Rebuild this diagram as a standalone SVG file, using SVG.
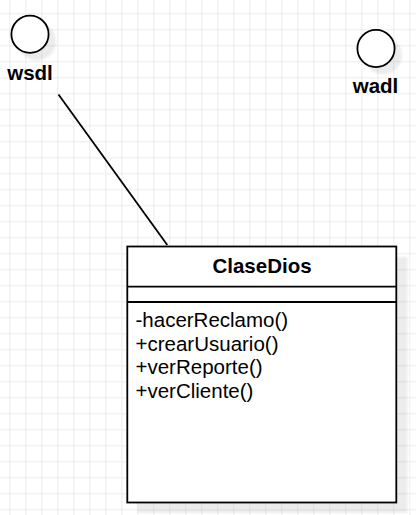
<svg xmlns="http://www.w3.org/2000/svg" width="416" height="515" viewBox="0 0 416 515">
<defs>
<pattern id="grid" x="9.3" y="13.3" width="16" height="16" patternUnits="userSpaceOnUse">
<path d="M0.5 0V16M0 0.5H16" fill="none" stroke="#ececec" stroke-width="1"/>
</pattern>
<filter id="sh" x="-20%" y="-20%" width="150%" height="150%">
<feGaussianBlur stdDeviation="1.2"/>
</filter>
</defs>
<style>
.lbl{font-family:"Liberation Sans",Arial,sans-serif;font-weight:bold;font-size:20.5px;fill:#000}
.m{font-family:"Liberation Sans",Arial,sans-serif;font-size:20.5px;fill:#000}
.shp{fill:#fff;stroke:#000;stroke-width:1.8}
.shadow{fill:#000;opacity:0.07}
</style>
<rect width="416" height="515" fill="#fff"/>
<rect width="416" height="515" fill="url(#grid)"/>
<g id="connectors">
<line x1="58.5" y1="94.5" x2="167.3" y2="245" stroke="#000" stroke-width="1.8"/>
</g>
<g id="wsdl">
<circle class="shadow" cx="37" cy="41.5" r="19" filter="url(#sh)"/>
<circle class="shp" cx="30" cy="34.3" r="18.6"/>
<text class="lbl" x="30" y="80" text-anchor="middle">wsdl</text>
</g>
<g id="wadl">
<circle class="shadow" cx="383" cy="55.5" r="19" filter="url(#sh)"/>
<circle class="shp" cx="376" cy="48.5" r="18.6"/>
<text class="lbl" x="375.5" y="92.5" text-anchor="middle">wadl</text>
</g>
<g id="ClaseDios">
<rect class="shadow" x="137.5" y="257" width="270" height="256" filter="url(#sh)"/>
<rect class="shp" x="127.3" y="246.5" width="269" height="256"/>
<line x1="127.3" y1="286.7" x2="396.3" y2="286.7" stroke="#000" stroke-width="1.8"/>
<line x1="127.3" y1="302" x2="396.3" y2="302" stroke="#000" stroke-width="1.8"/>
<text class="lbl" x="262" y="273.3" text-anchor="middle">ClaseDios</text>
<text class="m" x="135.5" y="327">-hacerReclamo()</text>
<text class="m" x="135.5" y="350.6">+crearUsuario()</text>
<text class="m" x="135.5" y="374.2">+verReporte()</text>
<text class="m" x="135.5" y="397.8">+verCliente()</text>
</g>
</svg>
